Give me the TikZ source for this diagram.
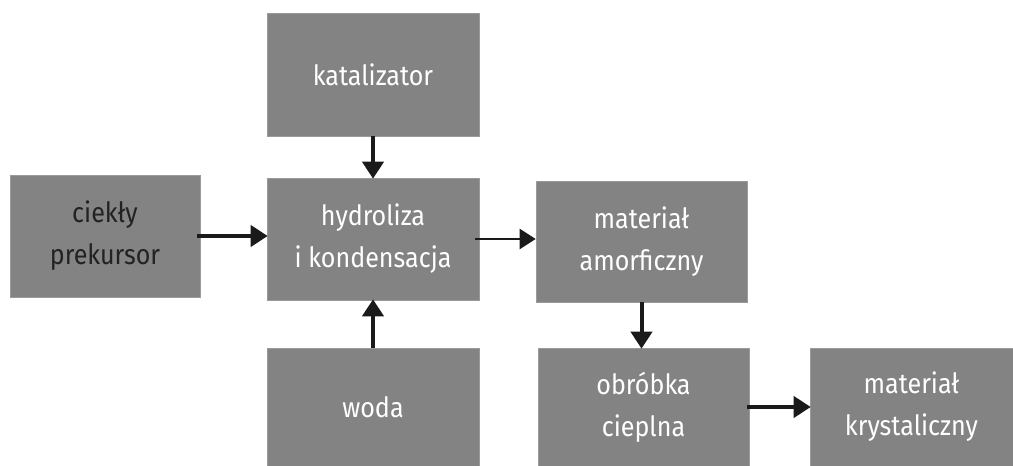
\documentclass[tikz,border=0pt]{standalone}
\usepackage{fontspec}
\setmainfont{Fira Sans}[FakeStretch=0.9]
\usetikzlibrary{arrows.meta,calc}
\definecolor{boxgray}{HTML}{838383}
\definecolor{boxedge}{HTML}{9A9A9A}
\definecolor{arrowc}{HTML}{1A1A1A}
\definecolor{darktext}{HTML}{222222}
\tikzset{
  box/.style={draw=boxedge, line width=0.6bp, fill=boxgray, text=white, align=center,
    inner sep=0pt, font=\fontsize{28}{42}\selectfont},
  thickarrow/.style={draw=arrowc, line width=4bp, -{Triangle[length=17bp,width=21bp]}, shorten >=-1bp},
  thinarrow/.style={draw=arrowc, line width=2.2bp, -{Triangle[length=16bp,width=20bp]}}
}
\newcommand{\boxat}[6]{% name, x1,y1,x2,y2, text
  \node[box, minimum width={(#4-#2)*1bp}, minimum height={(#5-#3)*1bp}] (#1) at ({(#2+#4)/2},{(#3+#5)/2}) {#6};}
\begin{document}
\begin{tikzpicture}[x=1bp,y=-1bp]
\useasboundingbox (0,0) rectangle (1013,466);
\boxat{kat}{267}{13}{479}{136}{katalizator}
\boxat{hyd}{267}{178}{479}{300}{hydroliza\\i kondensacja}
\boxat{woda}{267}{348}{479}{466}{woda}
\boxat{amo}{536}{181}{747}{302}{materiał\\amorficzny}
\boxat{obr}{538}{348}{749}{466}{obróbka\\cieplna}
\boxat{kry}{810}{348}{1013}{466}{materiał\\krystaliczny}
\node[box, text=darktext, minimum width=190bp, minimum height=122bp] (cie) at (105,236) {ciekły\\prekursor};
\draw[thickarrow] (kat.south) -- (hyd.north);
\draw[thickarrow] (woda.north) -- (hyd.south);
\draw[thickarrow] ([xshift=-3bp]cie.east) -- (cie.east -| hyd.west);
\draw[thinarrow] ([xshift=-4bp]hyd.east) -- (hyd.east -| amo.west);
\draw[thickarrow] (amo.south) -- (obr.north -| amo.south);
\draw[thickarrow] ([xshift=-2bp]obr.east) -- (obr.east -| kry.west);
\end{tikzpicture}
\end{document}
